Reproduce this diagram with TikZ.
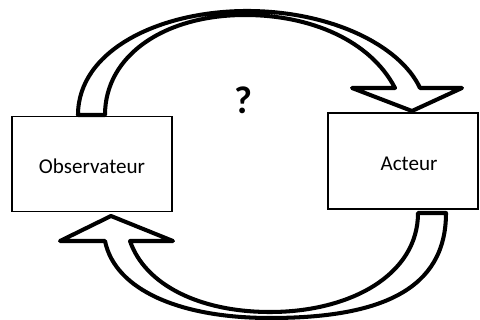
\documentclass[tikz,border=0pt]{standalone}
\usepackage{fontspec}
\setmainfont{Carlito}
\usepackage{tikz}
\usetikzlibrary{positioning}

\begin{document}
\begin{tikzpicture}[x=0.2mm,y=-0.2mm,
   box/.style={draw,line width=0.75pt,minimum width=32mm,minimum height=19mm,
      text height=2.3ex,text depth=0pt,font=\fontsize{12}{14}\selectfont},
   bigarrow/.style={draw,fill=white,line width=2.3pt,line join=round}]
   \useasboundingbox (0,0) rectangle (480,320);
   \clip (0,0) rectangle (480,320);
   \node[box] (obs) at (92,164) {Observateur};
   \node[box,minimum width=30mm,minimum height=19.2mm] (act) at (403,161) {\hspace*{2.4mm}Acteur};
   \node[font=\bfseries\fontsize{22}{24}\selectfont] (q) at (243,100) {?};

   % fleche du haut
   \draw[bigarrow] (78,115) .. controls (78,50) and (160,11) .. (247,11)
      .. controls (330,11) and (400,45) .. (420,88)
      -- (462,88) -- (412,111) -- (352,88) -- (395,88)
      .. controls (370,40) and (310,15) .. (245,15)
      .. controls (165,15) and (105,55) .. (105,115) -- cycle;
   % fleche du bas
   \draw[bigarrow] (446,213) .. controls (446,290) and (380,318) .. (270,318)
      .. controls (180,318) and (115,290) .. (105,241)
      -- (60,241) -- (111,216) -- (173,241) -- (130,241)
      .. controls (145,285) and (200,312) .. (270,312)
      .. controls (350,312) and (418,275) .. (418,213) -- cycle;
\end{tikzpicture}
\end{document}
